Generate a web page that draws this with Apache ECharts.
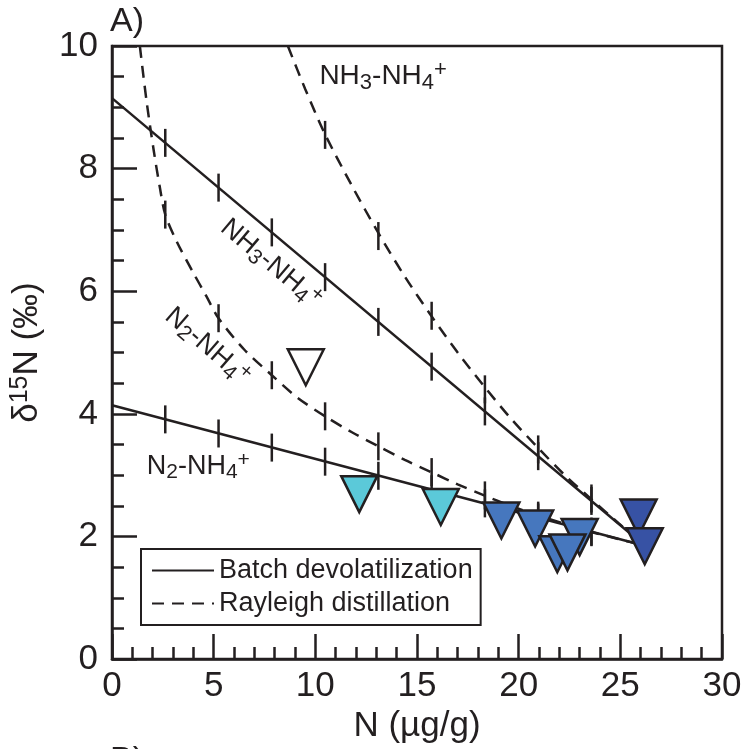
<!DOCTYPE html>
<html><head><meta charset="utf-8">
<script src="https://cdn.jsdelivr.net/npm/echarts@6/dist/echarts.min.js"></script>
<style>html,body{margin:0;padding:0;background:#fff}#c{width:745px;height:749px}</style>
</head><body><div id="c"></div>
<script>
// ---- data (N in µg/g, δ15N in ‰) ----
const batchNH3 = [[0, 9.15], [26.2, 1.85]];
const batchN2 = [[0, 4.14], [26.2, 1.85]];
const rayleighNH3 = [[8.65,10.0],[9.5,9.3],[10.45,8.58],[11.8,7.72],[13.1,6.95],[14.4,6.24],[15.7,5.6],[17.0,5.0],[18.3,4.45],[19.6,3.93],[21.0,3.43],[22.3,2.99],[23.6,2.6],[24.9,2.22],[26.2,1.85]];
const rayleighN2 = [[1.37,10.0],[1.7,9.1],[2.05,8.3],[2.35,7.7],[2.62,7.25],[3.2,6.8],[4.0,6.3],[4.64,5.92],[5.24,5.56],[6.5,5.05],[7.86,4.63],[9.1,4.27],[10.48,3.96],[11.8,3.7],[13.1,3.47],[14.4,3.25],[15.7,3.05],[17.0,2.85],[18.3,2.67],[19.6,2.5],[21.0,2.34],[22.3,2.2],[23.6,2.07],[24.9,1.96],[26.2,1.85]];

const batchNH3Ticks = [[2.62,8.42],[5.24,7.69],[7.86,6.96],[10.48,6.23],[13.1,5.5],[15.72,4.77],[18.34,4.04],[20.96,3.31],[23.58,2.58]];
const batchN2Ticks = [[2.62,3.91],[5.24,3.68],[7.86,3.45],[10.48,3.22],[13.1,2.99],[15.72,2.77],[18.34,2.54],[20.96,2.31],[23.58,2.08]];
const rayleighNH3Ticks = [[10.48,8.55],[13.1,6.9],[15.72,5.6],[18.34,4.4],[20.96,3.42],[23.58,2.62]];
const rayleighN2Ticks = [[2.62,7.25],[5.24,5.56],[7.86,4.63],[10.48,3.96],[13.1,3.47],[15.72,3.05],[18.34,2.67],[20.96,2.34],[23.58,2.07]];

const lightSamples = [[12.16,2.69],[16.17,2.48]];
const midSamples = [[19.15,2.26],[20.81,2.13],[23.0,1.99],[21.9,1.71],[22.4,1.74]];
const darkSamples = [[25.9,2.31],[26.2,1.84]];
const openSamples = [[9.53,4.76]];

const legendNames = ['Batch devolatilization', 'Rayleigh distillation'];
// annotation anchors in data units
const labelTopNH3 = [10.2, 9.5];
const labelBatchNH3 = [7.82, 6.45];
const labelRayN2 = [4.7, 5.1];
const labelBatchN2 = [1.71, 3.14];

// ---- styles ----
const INK = '#231f20';
const FONT = '"Liberation Sans", Arial, Helvetica, sans-serif';
const tok = (fs, pad) => ({fontSize: fs, color: INK, fontFamily: FONT, textBorderWidth: 0, padding: pad || 0});
const richChem = (fs) => ({
  a: tok(fs),
  s: tok(Math.round(fs*0.78), [Math.round(fs*0.45),0,0,0]),
  p: tok(Math.round(fs*0.78), [0,0,Math.round(fs*0.45),0])
});
const NH3NH4 = '{a|NH}{s|3}{a|-NH}{s|4}{p|+}';
const N2NH4 = '{a|N}{s|2}{a|-NH}{s|4}{p|+}';

function tickSeries(data) {
  return {type:'scatter', data, symbol:'rect', symbolSize:[2.5, 28], itemStyle:{color:INK, opacity:1}, z:3, silent:true};
}
function triSeries(data, fill) {
  return {type:'scatter', data, symbol:'triangle', symbolRotate:180, symbolSize:[36,36],
    itemStyle:{color:fill, borderColor:INK, borderWidth:2.5, opacity:1}, z:5, silent:true};
}
function labelSeries(pt, text, rot, fs, align) {
  return {type:'scatter', data:[pt], symbolSize:0, z:6, silent:true, itemStyle:{color:INK, opacity:1},
    label:{show:true, position:'inside', formatter:text, rotate:rot, align:align||'center', verticalAlign:'middle',
      color:INK, opacity:1, textBorderWidth:0, rich:richChem(fs)}};
}

const chart = echarts.init(document.getElementById('c'));
chart.setOption({
  animation:false,
  backgroundColor:'#fff',
  grid:{left:108, right:23, top:46, bottom:89, show:true, borderColor:INK, borderWidth:2.5},
  xAxis:{type:'value', min:0, max:30, interval:5,
    name:'N (µg/g)', nameLocation:'middle', nameGap:45,
    nameTextStyle:{fontSize:35, color:INK, fontFamily:FONT},
    axisLine:{onZero:false, lineStyle:{color:INK, width:2.5}},
    axisTick:{inside:true, length:25, lineStyle:{color:INK, width:2.5}},
    minorTick:{show:true, splitNumber:5, length:12, lineStyle:{color:INK, width:2.5}},
    splitLine:{show:false},
    axisLabel:{fontSize:35, color:INK, fontFamily:FONT, margin:10}},
  yAxis:{type:'value', min:0, max:10, interval:2,
    name:'{a|δ}{p|15}{a|N (‰)}', nameLocation:'middle', nameGap:65,
    nameTextStyle:{rich:{
      a:{fontSize:35, color:INK, fontFamily:FONT},
      p:{fontSize:25, color:INK, fontFamily:FONT, padding:[0,0,14,0]}}},
    axisLine:{onZero:false, lineStyle:{color:INK, width:2.5}},
    axisTick:{inside:true, length:25, lineStyle:{color:INK, width:2.5}},
    minorTick:{show:true, splitNumber:4, length:12, lineStyle:{color:INK, width:2.5}},
    splitLine:{show:false},
    axisLabel:{fontSize:35, color:INK, fontFamily:FONT, margin:14}},
  legend:{data:legendNames, orient:'vertical', left:141, top:549,
    borderColor:INK, borderWidth:2, borderRadius:0, padding:[8,8,8,10], itemGap:6,
    itemWidth:62, itemHeight:14, selectedMode:false,
    itemStyle:{opacity:0},
    textStyle:{fontSize:27, color:INK, fontFamily:FONT}},
  graphic:[
    {type:'text', left:110, top:5, style:{text:'A)', fontSize:34, fill:INK, fontFamily:FONT}},
    {type:'text', left:110, top:744, style:{text:'B)', fontSize:34, fill:INK, fontFamily:FONT}}
  ],
  series:[
    {name:legendNames[0], type:'line', data:batchNH3, symbol:'none', lineStyle:{color:INK, width:2.5, type:'solid'}, itemStyle:{color:INK}, z:2, silent:true},
    {name:legendNames[0], type:'line', data:batchN2, symbol:'none', lineStyle:{color:INK, width:2.5, type:'solid'}, itemStyle:{color:INK}, z:2, silent:true},
    {name:legendNames[1], type:'line', data:rayleighNH3, symbol:'none', smooth:0.3, lineStyle:{color:INK, width:2.5, type:[12,8]}, itemStyle:{color:INK}, z:2, silent:true},
    {name:legendNames[1], type:'line', data:rayleighN2, symbol:'none', smooth:0.3, lineStyle:{color:INK, width:2.5, type:[12,8]}, itemStyle:{color:INK}, z:2, silent:true},
    tickSeries(batchNH3Ticks), tickSeries(batchN2Ticks), tickSeries(rayleighNH3Ticks), tickSeries(rayleighN2Ticks),
    triSeries(openSamples, '#ffffff'),
    triSeries(lightSamples, '#5bc9d9'),
    triSeries(midSamples, '#4677be'),
    triSeries(darkSamples, '#3752a4'),
    labelSeries(labelTopNH3, NH3NH4, 0, 28, 'left'),
    labelSeries(labelBatchNH3, NH3NH4, -40, 27),
    labelSeries(labelRayN2, N2NH4, -41, 27),
    labelSeries(labelBatchN2, N2NH4, 0, 27, 'left')
  ]
});
</script></body></html>
